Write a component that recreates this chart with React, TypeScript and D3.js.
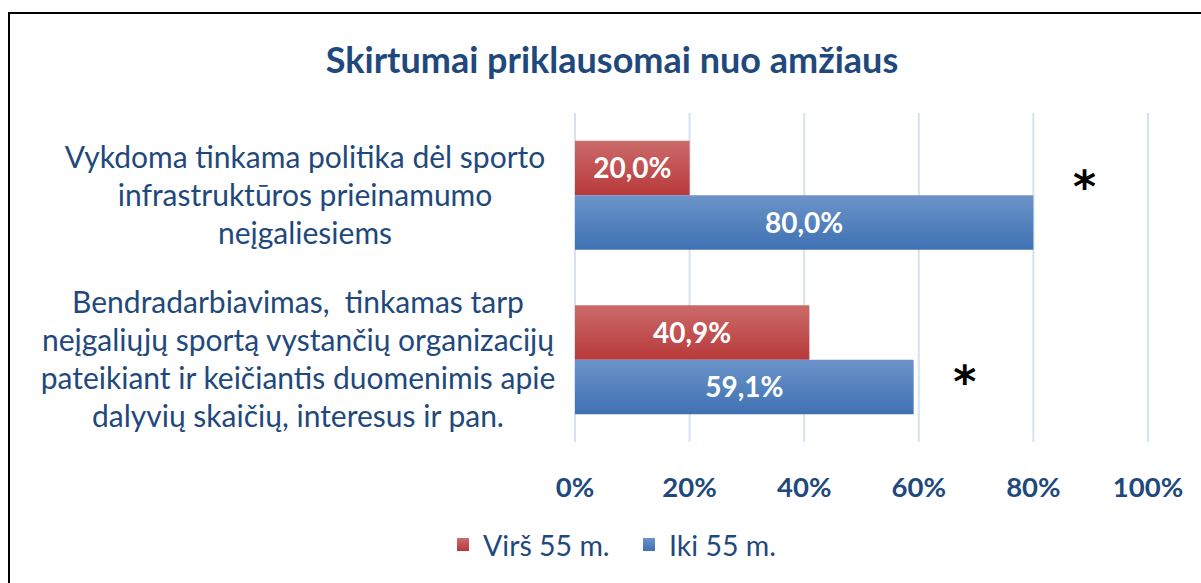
import React from "react";
import * as d3 from "d3";

const categories: string[][] = [
  ["Vykdoma tinkama politika dėl sporto", "infrastruktūros prieinamumo", "neįgaliesiems"],
  ["Bendradarbiavimas,  tinkamas tarp", "neįgaliųjų sportą vystančių organizacijų", "pateikiant ir keičiantis duomenimis apie", "dalyvių skaičių, interesus ir pan."],
];
const seriesNames = ["Virš 55 m.", "Iki 55 m."];
const over55 = [20.0, 40.9];
const under55 = [80.0, 59.1];
const significant = ["*", "*"];
const ticks = [0, 20, 40, 60, 80, 100];
const title = "Skirtumai priklausomai nuo amžiaus";

const W = 1201;
const H = 583;
const FONT = "Lato, 'Open Sans', sans-serif";
const TEXT = "#1F497D";

export default function App() {
  const x = d3.scaleLinear().domain([0, 100]).range([575, 1148]);
  const yGroup = d3.scaleBand<number>().domain([0, 1]).range([113, 442]);
  const bandH = yGroup.bandwidth();
  const barH = 54.5;
  const fmt = (v: number) => v.toFixed(1).replace(".", ",") + "%";
  const series = [over55, under55];
  const grads = ["gRed", "gBlue"];
  const starDy = [7, 37];
  const labelCx = [305, 298];

  return (
    <svg width={W} height={H} style={{ position: "absolute", left: 0, top: 0, background: "#fff" }} fontFamily={FONT}>
      <defs>
        <linearGradient id="gRed" x1="0" y1="0" x2="0" y2="1">
          <stop offset="0" stopColor="#CB6B6A" />
          <stop offset="1" stopColor="#B8393A" />
        </linearGradient>
        <linearGradient id="gBlue" x1="0" y1="0" x2="0" y2="1">
          <stop offset="0" stopColor="#6B94C9" />
          <stop offset="1" stopColor="#3F71B3" />
        </linearGradient>
      </defs>
      <rect x={0} y={0} width={W} height={H} fill="#fff" />
      <rect x={9} y={13} width={1400} height={800} fill="none" stroke="#000" strokeWidth={2} />
      <text x={612} y={60} dy="0.35em" textAnchor="middle" fontSize={36} fontWeight={700} fill={TEXT}>{title}</text>

      {ticks.map((t) => (
        <line key={t} x1={x(t)} x2={x(t)} y1={113} y2={442} stroke="#D6E2F2" strokeWidth={2} />
      ))}

      {categories.map((lines, i) => {
        const g0 = yGroup(i)!;
        const mid = g0 + bandH / 2;
        const lh = 38;
        const start = mid - ((lines.length - 1) * lh) / 2;
        return (
          <g key={i}>
            {lines.map((l, j) => (
              <text key={j} x={labelCx[i]} y={start + j * lh} dy="0.35em" textAnchor="middle" fontSize={30} fill={TEXT} style={{ whiteSpace: "pre" }}>{l}</text>
            ))}
            {series.map((s, k) => {
              const y0 = mid - barH + k * barH;
              return (
                <g key={k}>
                  <rect x={x(0)} y={y0} width={x(s[i]) - x(0)} height={barH} fill={`url(#${grads[k]})`} />
                  <text x={(x(0) + x(s[i])) / 2} y={y0 + barH / 2} dy="0.36em" textAnchor="middle" fontSize={28} fontWeight={700} fill="#fff">{fmt(s[i])}</text>
                </g>
              );
            })}
            {significant[i] && (
              <text x={x(under55[i]) + 51} y={mid + starDy[i]} textAnchor="middle" fontSize={44} fontWeight={700} fill="#000" fontFamily="'DejaVu Sans', sans-serif">{significant[i]}</text>
            )}
          </g>
        );
      })}

      {ticks.map((t) => (
        <text key={t} x={x(t)} y={487} dy="0.35em" textAnchor="middle" fontSize={27.5} fontWeight={700} fill={TEXT}>{t}%</text>
      ))}

      {seriesNames.map((n, k) => {
        const lx = [457, 643][k];
        return (
          <g key={n}>
            <rect x={lx} y={538} width={12} height={13} fill={`url(#${grads[k]})`} />
            <text x={lx + 26} y={546} dy="0.35em" fontSize={28.5} fill={TEXT}>{n}</text>
          </g>
        );
      })}
    </svg>
  );
}
